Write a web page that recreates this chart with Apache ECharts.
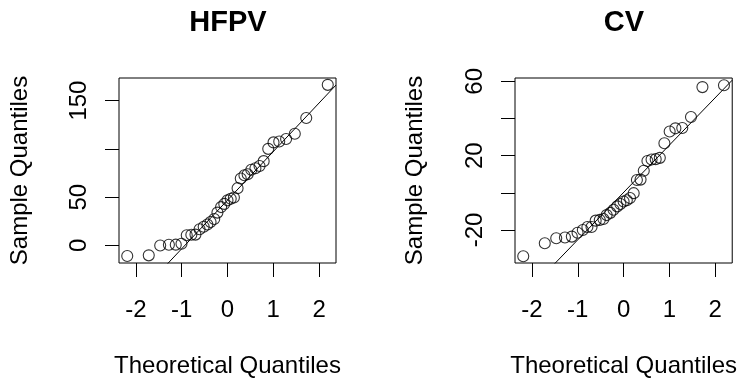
<!DOCTYPE html>
<html>
<head>
<meta charset="utf-8">
<script src="https://cdn.jsdelivr.net/npm/echarts@6/dist/echarts.min.js"></script>
<style>
  html, body { margin: 0; padding: 0; background: #fff; }
  #main { width: 740px; height: 383px; }
</style>
</head>
<body>
<div id="main"></div>
<script>
// theoretical quantiles (same n for both panels)
var theoQ = [-2.19, -1.72, -1.47, -1.28, -1.13, -1.005, -0.89, -0.79, -0.70, -0.61, -0.52, -0.44,
  -0.37, -0.29, -0.22, -0.14, -0.07, 0, 0.07, 0.14, 0.22, 0.29, 0.37, 0.44, 0.52, 0.61, 0.70,
  0.79, 0.89, 1.005, 1.13, 1.28, 1.47, 1.72, 2.19];

var hfpvSample = [-11, -10.3, 0, 0.7, 0.8, 1.7, 10.5, 11, 11.2, 16.7, 19.3, 21.7, 24.3, 27.3,
  34, 39.7, 43, 46.7, 48.3, 49.7, 59.3, 69.3, 72.7, 73.7, 78.3, 80, 82.3, 87.3, 100, 106.7,
  107.7, 110.3, 115.7, 132, 166.3];
var cvSample = [-34.2, -27.2, -24.5, -24.1, -23.6, -21.5, -20, -18.4, -18.4, -15, -14.6, -14.1,
  -12, -10.8, -9.1, -7.3, -6, -4.7, -4, -2.8, -0.2, 6.9, 7.1, 11.9, 17.1, 17.9, 18.1, 18.8,
  26.7, 33, 34.7, 34.9, 40.8, 56.9, 57.9];

// qqline: intercept, slope
var hfpvLine = [46.9, 50.3];
var cvLine = [0.2, 25.5];

var xTicks = [-2, -1, 0, 1, 2];
var hfpvYTicks = [0, 50, 100, 150];
var hfpvYLabels = [0, 50, 150];
var cvYTicks = [-20, 0, 20, 40, 60];
var cvYLabels = [-20, 20, 60];

var xRange = [-2.37, 2.37];
var hfpvRange = [-18.2, 173.4];
var cvRange = [-37.8, 61.8];

var FONT = 'Liberation Sans, Arial, sans-serif';

function pairs(xs, ys) {
  return xs.map(function (x, i) { return [x, ys[i]]; });
}
function lineEnds(coef) {
  return [[xRange[0], coef[0] + coef[1] * xRange[0]], [xRange[1], coef[0] + coef[1] * xRange[1]]];
}

function xAxis(idx) {
  return {
    type: 'value', gridIndex: idx, min: xRange[0], max: xRange[1],
    name: 'Theoretical Quantiles', nameLocation: 'middle', nameGap: 91,
    nameTextStyle: { fontSize: 24, color: '#000', fontFamily: FONT },
    axisLine: { show: false, onZero: false },
    splitLine: { show: false },
    axisTick: { show: true, length: 14, lineStyle: { color: '#000', width: 1 }, customValues: xTicks },
    axisLabel: { customValues: xTicks, margin: 35, fontSize: 24, color: '#000', fontFamily: FONT }
  };
}
function yAxis(idx, range, ticks, labels, gap) {
  return {
    type: 'value', gridIndex: idx, min: range[0], max: range[1],
    name: 'Sample Quantiles', nameLocation: 'middle', nameGap: gap,
    nameTextStyle: { fontSize: 24, color: '#000', fontFamily: FONT },
    axisLine: { show: false, onZero: false },
    splitLine: { show: false },
    axisTick: { show: true, length: 14, lineStyle: { color: '#000', width: 1 }, customValues: ticks },
    axisLabel: { customValues: labels, rotate: 90, margin: 28, fontSize: 24, color: '#000', fontFamily: FONT }
  };
}

var pointStyle = { color: 'rgba(0,0,0,0)', borderColor: '#000', borderWidth: 1.1 };

var myChart = echarts.init(document.getElementById('main'));
var option = {
  animation: false,
  backgroundColor: '#fff',
  graphic: [
    { type: 'text', x: 228, y: 8, style: { text: 'HFPV', fontSize: 29, fontWeight: 'bold', fill: '#000', fontFamily: FONT, textAlign: 'center' } },
    { type: 'text', x: 624, y: 8, style: { text: 'CV', fontSize: 29, fontWeight: 'bold', fill: '#000', fontFamily: FONT, textAlign: 'center' } }
  ],
  grid: [
    { left: 119, top: 78, width: 217, height: 192, show: true, borderColor: '#000', borderWidth: 1, backgroundColor: 'transparent' },
    { left: 515, top: 78, width: 218, height: 192, show: true, borderColor: '#000', borderWidth: 1, backgroundColor: 'transparent' }
  ],
  xAxis: [xAxis(0), xAxis(1)],
  yAxis: [
    yAxis(0, hfpvRange, hfpvYTicks, hfpvYLabels, 87),
    yAxis(1, cvRange, cvYTicks, cvYLabels, 88)
  ],
  series: [
    { type: 'scatter', xAxisIndex: 0, yAxisIndex: 0, symbol: 'circle', symbolSize: 11, itemStyle: pointStyle, data: pairs(theoQ, hfpvSample) },
    { type: 'line', xAxisIndex: 0, yAxisIndex: 0, symbol: 'none', clip: true, lineStyle: { color: '#000', width: 1 }, data: lineEnds(hfpvLine) },
    { type: 'scatter', xAxisIndex: 1, yAxisIndex: 1, symbol: 'circle', symbolSize: 11, itemStyle: pointStyle, data: pairs(theoQ, cvSample) },
    { type: 'line', xAxisIndex: 1, yAxisIndex: 1, symbol: 'none', clip: true, lineStyle: { color: '#000', width: 1 }, data: lineEnds(cvLine) }
  ]
};
myChart.setOption(option);
</script>
</body>
</html>
